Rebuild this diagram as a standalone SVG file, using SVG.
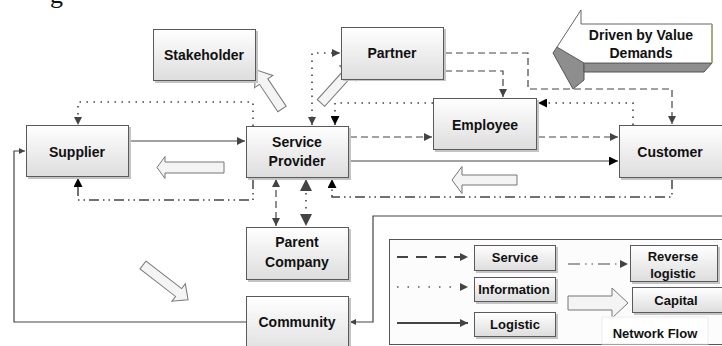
<svg xmlns="http://www.w3.org/2000/svg" width="722" height="346" viewBox="0 0 722 346">
<defs>
<linearGradient id="g" x1="0" y1="0" x2="0" y2="1">
<stop offset="0" stop-color="#ffffff"/>
<stop offset="1" stop-color="#dddddd"/>
</linearGradient>
<marker id="a" viewBox="0 0 10 10" refX="10" refY="5" markerWidth="8" markerHeight="8" markerUnits="userSpaceOnUse" orient="auto-start-reverse"><path d="M0,0L10,5L0,10z" fill="#444"/></marker>
<marker id="ab" viewBox="0 0 10 10" refX="10" refY="5" markerWidth="9" markerHeight="9" markerUnits="userSpaceOnUse" orient="auto-start-reverse"><path d="M0,0L10,5L0,10z" fill="#000"/></marker>
<marker id="al" viewBox="0 0 10 10" refX="10" refY="5" markerWidth="12" markerHeight="12" markerUnits="userSpaceOnUse" orient="auto-start-reverse"><path d="M0,0L10,5L0,10z" fill="#444"/></marker>
<marker id="as" viewBox="0 0 10 10" refX="10" refY="5" markerWidth="6" markerHeight="6" markerUnits="userSpaceOnUse" orient="auto-start-reverse"><path d="M0,0L10,5L0,10z" fill="#444"/></marker>
</defs>
<style>
.box{fill:url(#g);stroke:#5a5a5a;stroke-width:1}
.sh{fill:#c4c4c4}
.t{font-family:"Liberation Sans",Arial,sans-serif;font-weight:bold;font-size:14px;fill:#111;text-anchor:middle}
.lt{font-family:"Liberation Sans",Arial,sans-serif;font-weight:bold;font-size:13px;fill:#111;text-anchor:middle}
.c{fill:none;stroke:#444;stroke-width:1.2}
.dash{stroke-dasharray:7,4}
.dot{stroke-dasharray:1.5,5.5;stroke-width:1.6}
.rl{stroke-dasharray:10,4,1.5,4,1.5,4;stroke-width:1.5}
.blk{fill:#f4f4f4;stroke:#777;stroke-width:1}
</style>

<text x="50" y="3" font-family="Liberation Serif,serif" font-size="26" fill="#111">g</text>

<g id="connectors">
<path class="c dot" d="M253,126 L253,102 L78,102 L78,125" marker-end="url(#a)"/>
<path class="c dot" d="M312,125 L312,53 L340,53" marker-start="url(#a)" marker-end="url(#a)"/>
<path class="c dot" d="M633,125 L633,103 L538,103" marker-end="url(#ab)" stroke="#222"/>
<path class="c dot" d="M433,103 L335,103 L335,125" marker-end="url(#ab)" stroke="#222"/>
<path class="c dot" d="M306,179 L306,226" marker-start="url(#al)" marker-end="url(#al)"/>

<path class="c dash" d="M445,53 L528,53 L528,89 L672,89 L672,124" marker-end="url(#a)"/>
<path class="c dash" d="M445,71 L503,71 L503,97" marker-end="url(#a)"/>
<path class="c dash" d="M350,137 L432,137" marker-end="url(#a)"/>
<path class="c dash" d="M538,137 L618,137" marker-end="url(#a)"/>
<path class="c dash" d="M276,179 L276,226" marker-start="url(#a)" marker-end="url(#a)"/>

<path class="c" d="M130,141 L245,141" marker-end="url(#a)"/>
<path class="c" d="M350,161 L618,161" marker-end="url(#ab)" stroke="#000"/>
<path class="c" d="M246,322 L14,322 L14,151 L25,151" marker-end="url(#as)"/>
<path class="c" d="M722,216 L373,216 L373,322 L350,322" marker-end="url(#as)"/>

<path class="c rl" d="M253,179 L253,200 L78,200 L78,178" marker-end="url(#ab)" stroke="#222"/>
<path class="c rl" d="M672,179 L672,197 L332,197 L332,179" marker-end="url(#ab)" stroke="#222"/>
</g>

<g id="capital-arrows">
<polygon class="blk" transform="translate(282,109) rotate(-123.7)" points="0,-5 33,-5 33,-11 47,0 33,11 33,5 0,5"/>
<polygon class="blk" transform="translate(321,103) rotate(-48)" points="0,-5 40,-5 40,-11 54,0 40,11 40,5 0,5"/>
<polygon class="blk" transform="translate(224,167.5) rotate(180)" points="0,-5.5 59,-5.5 59,-11 67,0 59,11 59,5.5 0,5.5"/>
<polygon class="blk" transform="translate(517,180) rotate(180)" points="0,-5 55,-5 55,-13.5 65,0 55,13.5 55,5 0,5"/>
<polygon class="blk" transform="translate(143,265) rotate(37.7)" points="0,-5 45,-5 45,-11 57,0 45,11 45,5 0,5"/>
</g>

<g id="driven">
<polygon points="557,47 584,63 584,80 573,89 553,53" fill="#8e8e8e" stroke="#555" stroke-width="1"/>
<polygon points="584,63 712,63 704,72 584,72" fill="#8e8e8e" stroke="#555" stroke-width="1"/>
<polygon points="557,47 581,10 581,24 712,24 712,63 584,63" fill="#ffffff" stroke="#666" stroke-width="1"/>
<line x1="712" y1="24" x2="712" y2="63" stroke="#a4a86a" stroke-width="1.5"/>
<text class="t" x="641" y="40">Driven by Value</text>
<text class="t" x="641" y="58">Demands</text>
</g>

<g id="stakeholder">
<rect class="sh" x="155" y="31" width="103" height="52"/>
<rect class="box" x="153.5" y="29.5" width="102" height="51"/>
<text class="t" x="204" y="60">Stakeholder</text>
</g>
<g id="partner">
<rect class="sh" x="343" y="29" width="103" height="52"/>
<rect class="box" x="341.5" y="27.5" width="102" height="52"/>
<text class="t" x="392" y="58">Partner</text>
</g>
<g id="supplier">
<rect class="sh" x="28" y="127" width="103" height="52"/>
<rect class="box" x="26.5" y="125.5" width="102" height="51"/>
<text class="t" x="77" y="157">Supplier</text>
</g>
<g id="service-provider">
<rect class="sh" x="248" y="128" width="103" height="52"/>
<rect class="box" x="246.5" y="126.5" width="102" height="51"/>
<text class="t" x="297" y="147">Service</text>
<text class="t" x="297" y="166">Provider</text>
</g>
<g id="employee">
<rect class="sh" x="435" y="100" width="104" height="52"/>
<rect class="box" x="433.5" y="98.5" width="103" height="51"/>
<text class="t" x="485" y="130">Employee</text>
</g>
<g id="customer">
<rect class="sh" x="621" y="127" width="110" height="53"/>
<rect class="box" x="619.5" y="125.5" width="110" height="52"/>
<text class="t" x="670" y="157">Customer</text>
</g>
<g id="parent-company">
<rect class="sh" x="248" y="229" width="103" height="53"/>
<rect class="box" x="246.5" y="227.5" width="102" height="52"/>
<text class="t" x="297" y="247">Parent</text>
<text class="t" x="297" y="267">Company</text>
</g>
<g id="community">
<rect class="sh" x="248" y="298" width="103" height="60"/>
<rect class="box" x="246.5" y="296.5" width="102" height="60"/>
<text class="t" x="297" y="327">Community</text>
</g>

<g id="legend">
<rect x="389.5" y="239.5" width="340" height="105" fill="#fcfcfc" stroke="#555" stroke-width="1"/>
<path d="M397,257 L468,257" fill="none" stroke="#444" stroke-width="2" stroke-dasharray="11,8" marker-end="url(#a)"/>
<path d="M397,287 L468,287" fill="none" stroke="#555" stroke-width="1.5" stroke-dasharray="1.5,9" marker-end="url(#a)"/>
<path d="M397,323 L468,323" fill="none" stroke="#444" stroke-width="2" marker-end="url(#a)"/>
<path d="M568,264 L628,264" fill="none" stroke="#444" stroke-width="1.2" stroke-dasharray="12,5,1.5,5,1.5,5" marker-end="url(#a)"/>
<polygon class="blk" points="568,296 612,296 612,288 628,303 612,318 612,310 568,310"/>
<g id="legend-service">
<rect class="sh" x="476" y="247" width="82" height="26"/>
<rect class="box" x="474.5" y="245.5" width="81" height="25"/>
<text class="lt" x="515" y="262">Service</text>
</g>
<g id="legend-information">
<rect class="sh" x="476" y="279" width="82" height="25"/>
<rect class="box" x="474.5" y="277.5" width="81" height="24"/>
<text class="lt" x="514" y="294">Information</text>
</g>
<g id="legend-logistic">
<rect class="sh" x="476" y="314" width="82" height="25"/>
<rect class="box" x="474.5" y="312.5" width="81" height="24"/>
<text class="lt" x="515" y="329">Logistic</text>
</g>
<g id="legend-reverse">
<rect class="sh" x="632" y="247" width="88" height="37"/>
<rect class="box" x="630.5" y="245.5" width="87" height="36"/>
<text class="lt" x="673" y="261">Reverse</text>
<text class="lt" x="673" y="278">logistic</text>
</g>
<g id="legend-capital">
<rect class="sh" x="634" y="289" width="90" height="26"/>
<rect class="box" x="632.5" y="287.5" width="90" height="25"/>
<text class="lt" x="676" y="305">Capital</text>
</g>
<rect x="602" y="317" width="106" height="27" fill="#ffffff" stroke="#ececec" stroke-width="1"/>
<text class="lt" x="655" y="338">Network Flow</text>
</g>
</svg>
